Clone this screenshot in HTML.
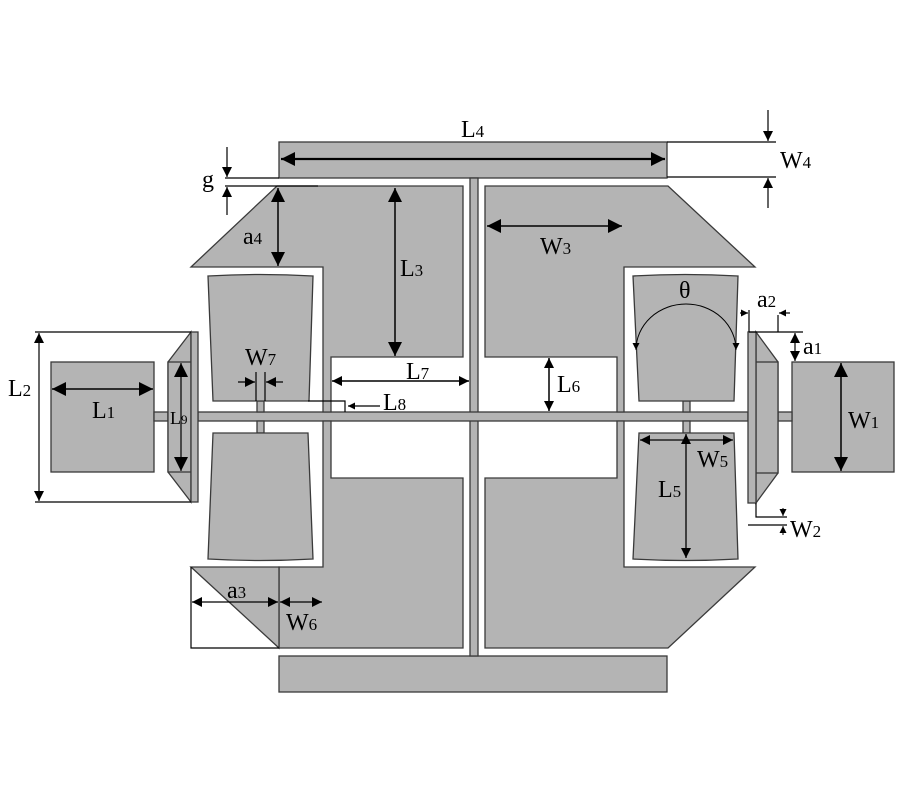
<!DOCTYPE html>
<html><head><meta charset="utf-8"><style>
html,body{margin:0;padding:0;background:#fff;}
svg{display:block;}
text{font-family:"Liberation Serif",serif;fill:#000;}
</style></head><body>
<svg width="900" height="800" viewBox="0 0 900 800" xmlns="http://www.w3.org/2000/svg">
<defs>
<marker id="A" viewBox="0 0 10 10" refX="10" refY="5" markerWidth="10" markerHeight="10" markerUnits="userSpaceOnUse" orient="auto-start-reverse"><path d="M0,0L10,5L0,10z" fill="#000"/></marker>
<marker id="B" viewBox="0 0 10 10" refX="10" refY="5" markerWidth="14" markerHeight="14" markerUnits="userSpaceOnUse" orient="auto-start-reverse"><path d="M0,0L10,5L0,10z" fill="#000"/></marker>
<marker id="S" viewBox="0 0 10 10" refX="10" refY="5" markerWidth="7" markerHeight="7" markerUnits="userSpaceOnUse" orient="auto-start-reverse"><path d="M0,0L10,5L0,10z" fill="#000"/></marker>
</defs>
<g fill="#b4b4b4" stroke="#3a3a3a" stroke-width="1.3">
<rect x="279" y="142" width="388" height="36"/>
<rect x="279" y="656" width="388" height="36"/>
<rect x="470" y="178" width="8" height="478"/>
<rect x="198" y="412" width="550" height="9"/>
<path d="M277,186L463,186L463,357L331,357L331,412L323,412L323,267L191,267Z"/>
<path d="M485,186L668,186L755,267L624,267L624,412L617,412L617,357L485,357Z"/>
<path d="M323,421L331,421L331,478L463,478L463,648L279,648L279,567L323,567Z"/>
<path d="M191,567L279,567L279,648Z"/>
<path d="M485,478L617,478L617,421L624,421L624,567L755,567L668,648L485,648Z"/>
<rect x="257" y="401" width="7" height="11"/>
<rect x="257" y="421" width="7" height="12"/>
<rect x="683" y="401" width="7" height="11"/>
<rect x="683" y="421" width="7" height="12"/>
<path d="M208,276Q260,273 313,276L309,401L213,401Z"/>
<path d="M213,433L308,433L313,559Q260,562 208,559Z"/>
<path d="M633,276Q685,273 738,276L734,401L639,401Z"/>
<path d="M639,433L734,433L738,559Q685,562 633,559Z"/>
<rect x="51" y="362" width="103" height="110"/>
<rect x="154" y="412" width="14" height="9"/>
<path d="M168,362L191,332L191,502L168,472Z"/>
<rect x="168" y="362" width="23" height="110"/>
<rect x="191" y="332" width="7" height="170"/>
<rect x="792" y="362" width="102" height="110"/>
<rect x="778" y="412" width="14" height="9"/>
<path d="M756,332L778,362L778,473L756,503Z"/>
<rect x="756" y="362" width="22" height="111"/>
<rect x="748" y="332" width="8" height="171"/>
</g>
<g stroke="#000" stroke-width="1.2" fill="none">
<path d="M191,567L191,648L279,648"/>
<line x1="35" y1="332" x2="191" y2="332"/>
<line x1="35" y1="502" x2="191" y2="502"/>
<line x1="225" y1="178" x2="279" y2="178"/>
<line x1="225" y1="186" x2="318" y2="186"/>
<line x1="667" y1="142" x2="776" y2="142"/>
<line x1="667" y1="177" x2="776" y2="177"/>
<path d="M308,401L345,401L345,412"/>
<line x1="256" y1="372" x2="256" y2="401"/>
<line x1="265" y1="372" x2="265" y2="401"/>
<line x1="749" y1="310" x2="749" y2="332"/>
<line x1="778" y1="315" x2="778" y2="332"/>
<line x1="749" y1="332" x2="803" y2="332"/>
<path d="M756,503L756,517L787,517"/>
<line x1="748" y1="525" x2="787" y2="525"/>
<path d="M636,350A50,46 0 0 1 736,350" stroke-width="1" marker-start="url(#S)" marker-end="url(#S)"/>
</g>
<g stroke="#000" fill="none">
<line x1="281" y1="159" x2="665" y2="159" stroke-width="2.2" marker-start="url(#B)" marker-end="url(#B)"/>
<line x1="768" y1="110" x2="768" y2="141" stroke-width="1.2" marker-end="url(#A)"/>
<line x1="768" y1="208" x2="768" y2="178" stroke-width="1.2" marker-end="url(#A)"/>
<line x1="227" y1="147" x2="227" y2="177" stroke-width="1.2" marker-end="url(#A)"/>
<line x1="227" y1="215" x2="227" y2="187" stroke-width="1.2" marker-end="url(#A)"/>
<line x1="278" y1="188" x2="278" y2="266" stroke-width="1.5" marker-start="url(#B)" marker-end="url(#B)"/>
<line x1="395" y1="188" x2="395" y2="356" stroke-width="1.5" marker-start="url(#B)" marker-end="url(#B)"/>
<line x1="487" y1="226" x2="622" y2="226" stroke-width="1.5" marker-start="url(#B)" marker-end="url(#B)"/>
<line x1="332" y1="381" x2="469" y2="381" stroke-width="1.5" marker-start="url(#A)" marker-end="url(#A)"/>
<line x1="380" y1="406" x2="348" y2="406" stroke-width="1.2" marker-end="url(#S)"/>
<line x1="549" y1="358" x2="549" y2="411" stroke-width="1.5" marker-start="url(#A)" marker-end="url(#A)"/>
<line x1="238" y1="382" x2="255" y2="382" stroke-width="1.3" marker-end="url(#A)"/>
<line x1="283" y1="382" x2="266" y2="382" stroke-width="1.3" marker-end="url(#A)"/>
<line x1="52" y1="389" x2="153" y2="389" stroke-width="1.5" marker-start="url(#B)" marker-end="url(#B)"/>
<line x1="181" y1="363" x2="181" y2="471" stroke-width="1.2" marker-start="url(#B)" marker-end="url(#B)"/>
<line x1="39" y1="333" x2="39" y2="501" stroke-width="1.2" marker-start="url(#A)" marker-end="url(#A)"/>
<line x1="740" y1="313" x2="748" y2="313" stroke-width="1.2" marker-end="url(#S)"/>
<line x1="790" y1="313" x2="779" y2="313" stroke-width="1.2" marker-end="url(#S)"/>
<line x1="795" y1="333" x2="795" y2="361" stroke-width="1.2" marker-start="url(#A)" marker-end="url(#A)"/>
<line x1="841" y1="363" x2="841" y2="471" stroke-width="1.5" marker-start="url(#B)" marker-end="url(#B)"/>
<line x1="640" y1="440" x2="733" y2="440" stroke-width="1.3" marker-start="url(#A)" marker-end="url(#A)"/>
<line x1="686" y1="434" x2="686" y2="558" stroke-width="1.3" marker-start="url(#A)" marker-end="url(#A)"/>
<line x1="783" y1="508" x2="783" y2="516" stroke-width="1" marker-end="url(#S)"/>
<line x1="783" y1="535" x2="783" y2="526" stroke-width="1" marker-end="url(#S)"/>
<line x1="192" y1="602" x2="278" y2="602" stroke-width="1.3" marker-start="url(#A)" marker-end="url(#A)"/>
<line x1="280" y1="602" x2="322" y2="602" stroke-width="1.3" marker-start="url(#A)" marker-end="url(#A)"/>
</g>
<g font-size="24">
<text x="461" y="137">L<tspan font-size="17">4</tspan></text>
<text x="780" y="168">W<tspan font-size="17">4</tspan></text>
<text x="202" y="187">g</text>
<text x="243" y="244">a<tspan font-size="17">4</tspan></text>
<text x="400" y="276">L<tspan font-size="17">3</tspan></text>
<text x="540" y="254">W<tspan font-size="17">3</tspan></text>
<text x="679" y="298">θ</text>
<text x="757" y="307">a<tspan font-size="17">2</tspan></text>
<text x="803" y="354">a<tspan font-size="17">1</tspan></text>
<text x="245" y="365">W<tspan font-size="17">7</tspan></text>
<text x="406" y="379">L<tspan font-size="17">7</tspan></text>
<text x="383" y="410">L<tspan font-size="17">8</tspan></text>
<text x="557" y="392">L<tspan font-size="17">6</tspan></text>
<text x="92" y="418">L<tspan font-size="17">1</tspan></text>
<text x="170" y="424" font-size="18">L<tspan font-size="13">9</tspan></text>
<text x="8" y="396">L<tspan font-size="17">2</tspan></text>
<text x="848" y="428">W<tspan font-size="17">1</tspan></text>
<text x="697" y="467">W<tspan font-size="17">5</tspan></text>
<text x="658" y="497">L<tspan font-size="17">5</tspan></text>
<text x="790" y="537">W<tspan font-size="17">2</tspan></text>
<text x="227" y="598">a<tspan font-size="17">3</tspan></text>
<text x="286" y="630">W<tspan font-size="17">6</tspan></text>
</g>
</svg>
</body></html>
